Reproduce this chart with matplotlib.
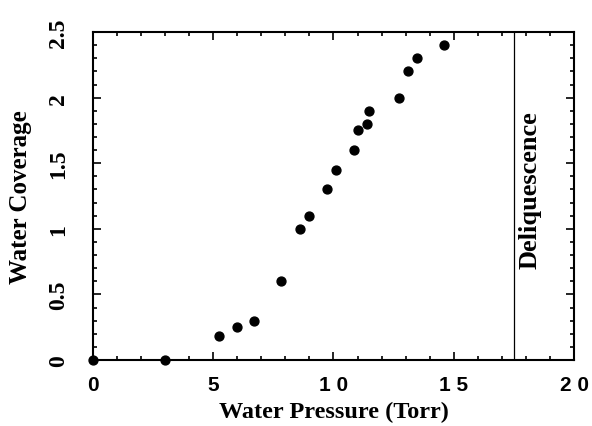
import numpy as np
import matplotlib
matplotlib.use("Agg")
import matplotlib.pyplot as plt
from matplotlib.ticker import MultipleLocator, FuncFormatter

# data
pressure = [0.0, 3.0, 5.24, 5.97, 6.69, 7.83, 8.59, 8.98, 9.74, 10.10,
            10.85, 11.03, 11.38, 11.46, 12.72, 13.10, 13.47, 14.59]
coverage = [0.0, 0.0, 0.18, 0.25, 0.30, 0.60, 1.00, 1.10, 1.30, 1.45,
            1.60, 1.75, 1.80, 1.90, 2.00, 2.20, 2.30, 2.40]
deliq_x = 17.5

fig = plt.figure(figsize=(5.92, 4.27), dpi=100)
ax = fig.add_axes([0.157, 0.1546, 0.8126, 0.768])

ax.plot(pressure, coverage, "o", color="black", ms=6.4, clip_on=False, zorder=3)
ax.axvline(deliq_x, color="black", lw=0.9)
ax.text(18.17, 1.30, "Deliquescence", rotation=90, ha="center", va="center",
        family="Liberation Serif", fontweight="bold", fontsize=19)

ax.set_xlim(0, 20)
ax.set_ylim(0, 2.5)
ax.xaxis.set_major_locator(MultipleLocator(5))
ax.xaxis.set_minor_locator(MultipleLocator(1))
ax.yaxis.set_major_locator(MultipleLocator(0.5))
ax.yaxis.set_minor_locator(MultipleLocator(0.1))
# old-style spaced digits on the x axis
ax.xaxis.set_major_formatter(FuncFormatter(lambda v, p: " ".join(str(int(v)))))
ax.yaxis.set_major_formatter(FuncFormatter(lambda v, p: f"{v:g}"))

ax.tick_params(which="both", direction="in", top=True, right=True, width=1.2)
ax.tick_params(which="major", length=6)
ax.tick_params(which="minor", length=3)
ax.tick_params(axis="x", pad=11)
ax.tick_params(axis="y", pad=17)
for lab in ax.get_xticklabels():
    lab.set_family("Liberation Sans")
    lab.set_fontweight("bold")
    lab.set_fontsize(15)
for lab in ax.get_yticklabels():
    lab.set_family("Liberation Serif")
    lab.set_fontweight("bold")
    lab.set_fontsize(17)
    lab.set_rotation(90)
    lab.set_va("center")

for sp in ax.spines.values():
    sp.set_linewidth(1.5)

ax.set_xlabel("Water Pressure (Torr)", family="Liberation Serif",
              fontweight="bold", fontsize=17.5, labelpad=5)
ax.set_ylabel("Water Coverage", family="Liberation Serif",
              fontweight="bold", fontsize=18, labelpad=12)

fig.savefig("out.png", dpi=100)
